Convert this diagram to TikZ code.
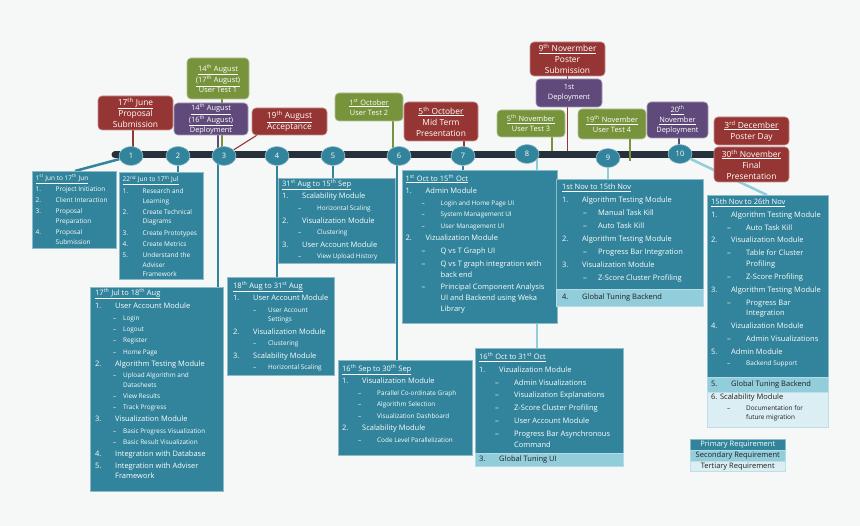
\documentclass[tikz,border=0pt]{standalone}
\usepackage{fontspec}
\setmainfont{Open Sans}
\usetikzlibrary{shapes.geometric,calc}
\definecolor{bg}{HTML}{F6F7F7}
\definecolor{prim}{HTML}{31849B}
\definecolor{sec}{HTML}{92CDDC}
\definecolor{ter}{HTML}{DAEEF3}
\definecolor{evr}{HTML}{963634}
\definecolor{evg}{HTML}{77933C}
\definecolor{evp}{HTML}{604A7B}
\definecolor{barc}{HTML}{27313B}
\definecolor{dk}{HTML}{1E1E1E}
\pgfdeclarelayer{bgl}\pgfdeclarelayer{back}\pgfdeclarelayer{mid}
\pgfsetlayers{bgl,back,mid,main}
\newlength\hdgap \newlength\dpos \newlength\spos
\newcommand\sps[1]{\textsuperscript{#1}}
\newcommand\hd[1]{\noindent\underline{#1}\par\vspace*{\hdgap}}
\newcommand\ti[2]{\hangindent=20pt\hangafter=1\noindent\makebox[20pt][l]{#1}#2\par}
\newcommand\subfont{\fontsize{6.4}{9.4}\selectfont}
\newcommand\subsm[1]{{\subfont\hangindent=\spos\hangafter=1\noindent\hspace*{\dpos}\makebox[\dimexpr\spos-\dpos\relax][l]{–}#1\par}}
\newcommand\subn[1]{\hangindent=\spos\hangafter=1\noindent\hspace*{\dpos}\makebox[\dimexpr\spos-\dpos\relax][l]{–}#1\par}
\newcommand\setS{\fontsize{6.5}{9.8}\selectfont\setlength\parskip{1.3pt}\setlength\hdgap{0.5pt}}
\newcommand\setM{\fontsize{7.5}{10.8}\selectfont\setlength\parskip{1.95pt}\setlength\hdgap{0pt}\setlength\dpos{16pt}\setlength\spos{35pt}}
\newcommand\bt[3]{\begin{minipage}[t]{#1}\rightskip=0pt plus 1fil\relax\parfillskip=0pt plus 1fil\relax#2#3\end{minipage}}
\newcommand\evbig{\fontsize{8.4}{11}\selectfont}
\newcommand\evsm{\fontsize{7.4}{10}\selectfont}
\tikzset{
  pbox/.style={draw=prim!55!white, fill=prim, line width=0.5pt, anchor=north west, inner sep=0pt, outer sep=0pt},
  sbox/.style={pbox, fill=sec, draw=sec!70!white},
  tbox/.style={pbox, fill=ter, draw=ter!85!prim},
  tx/.style={anchor=north west, inner sep=0pt, text=white},
  txd/.style={tx, text=dk},
  conn/.style={draw=prim, line width=2.5pt},
  lconn/.style={draw=sec, line width=2.5pt},
  circ/.style={ellipse, fill=prim, draw=prim!50!white, line width=0.6pt, minimum width=24pt, minimum height=19pt, inner sep=0pt, text=white, font=\fontsize{7.5}{9}\selectfont},
  ev/.style={rounded corners=4pt, inner sep=0pt, align=center, text=white, line width=0.6pt},
  evR/.style={ev, fill=evr, draw=evr!55!white, font=\evbig},
  evG/.style={ev, fill=evg, draw=evg!55!white, font=\evsm},
  evP/.style={ev, fill=evp, draw=evp!55!white, font=\evsm},
  rl/.style={line width=1.1pt},
  leg/.style={anchor=north west, minimum width=95pt, inner sep=0pt, font=\fontsize{7.5}{9}\selectfont, line width=0.5pt}
}
\begin{document}
\begin{tikzpicture}[x=1pt,y=-1pt]
\useasboundingbox (0,0) rectangle (860,526);
\begin{pgfonlayer}{bgl}\fill[bg] (0,0) rectangle (860,526);\end{pgfonlayer}
% timeline
\coordinate (tl) at (115,155);
\coordinate (tr) at (782,155);
\begin{pgfonlayer}{mid}\draw[barc, line width=7pt, line cap=round] (tl) -- (tr);\end{pgfonlayer}
% circles
\node[circ] (c1) at (131,156) {1};
\node[circ] (c2) at (178,156) {2};
\node[circ] (c3) at (224,156) {3};
\node[circ] (c4) at (277,156) {4};
\node[circ] (c5) at (333,156) {5};
\node[circ] (c6) at (399,156) {6};
\node[circ] (c7) at (463,156) {7};
\node[circ] (c8) at (527,154) {8};
\node[circ] (c9) at (608,158) {9};
\node[circ] (c10) at (680,154) {10};
% task boxes
\node[pbox, minimum width=84pt, minimum height=77pt] (bA) at (32,171) {};
\node[tx] (tA) at ($(bA.north west)+(3.5,3)$) {\bt{82pt}{\setS}{%
\hd{1\sps{st} Jun to 17\sps{th} Jun}
\ti{1.}{Project Initiation}
\ti{2.}{Client Interaction}
\ti{3.}{Proposal\\Preparation}
\ti{4.}{Proposal\\Submission}}};
\node[pbox, minimum width=84pt, minimum height=107pt] (bB) at (119,172) {};
\node[tx] (tB) at ($(bB.north west)+(3.5,3.5)$) {\bt{82pt}{\setS}{%
\hd{22\sps{nd} Jun to 17\sps{th} Jul}
\ti{1.}{Research and\\Learning}
\ti{2.}{Create Technical\\Diagrams}
\ti{3.}{Create Prototypes}
\ti{4.}{Create Metrics}
\ti{5.}{Understand the\\Adviser\\Framework}}};
\node[pbox, minimum width=133pt, minimum height=204pt] (bC) at (90,287) {};
\node[tx] (tC) at ($(bC.north west)+(5,1)$) {\bt{130pt}{\setM\fontsize{7.5}{10}\selectfont\setlength\parskip{2pt}\setlength\hdgap{1.5pt}\setlength\dpos{18pt}\setlength\spos{28pt}}{%
\hd{17\sps{th} Jul to 18\sps{th} Aug}
\ti{1.}{User Account Module}
\subsm{Login}
\subsm{Logout}
\subsm{Register}
\subsm{Home Page}
\ti{2.}{Algorithm Testing Module}
\subsm{Upload Algorithm and\\Datasheets}
\subsm{View Results}
\subsm{Track Progress}
\ti{3.}{Visualization Module}
\subsm{Basic Progress Visualization}
\subsm{Basic Result Visualization}
\ti{4.}{Integration with Database}
\ti{5.}{Integration with Adviser\\Framework}}};
\node[pbox, minimum width=107pt, minimum height=98pt] (bD) at (227,277) {};
\node[tx] (tD) at ($(bD.north west)+(6,4)$) {\bt{104pt}{\setM\setlength\dpos{20pt}\setlength\spos{35pt}}{%
\hd{18\sps{th} Aug to 31\sps{st} Aug}
\ti{1.}{User Account Module}
\subsm{User Account\\Settings}
\ti{2.}{Visualization Module}
\subsm{Clustering}
\ti{3.}{Scalability Module}
\subsm{Horizontal Scaling}}};
\node[pbox, minimum width=117pt, minimum height=85pt] (bE) at (278,178) {};
\node[tx] (tE) at ($(bE.north west)+(4,1)$) {\bt{115pt}{\setM}{%
\hd{31\sps{st} Aug to 15\sps{th} Sep}
\ti{1.}{Scalability Module}
\subsm{Horizontal Scaling}
\ti{2.}{Visualization Module}
\subsm{Clustering}
\ti{3.}{User Account Module}
\subsm{View Upload History}}};
\node[pbox, minimum width=134pt, minimum height=95pt] (bF) at (338,360) {};
\node[tx] (tF) at ($(bF.north west)+(4,4)$) {\bt{132pt}{\setM}{%
\hd{16\sps{th} Sep to 30\sps{th} Sep}
\ti{1.}{Visualization Module}
\subsm{Parallel Co-ordinate Graph}
\subsm{Algorithm Selection}
\subsm{Visualization Dashboard}
\ti{2.}{Scalability Module}
\subsm{Code Level Parallelization}}};
\node[pbox, minimum width=155pt, minimum height=153pt] (bG) at (402,170) {};
\node[tx] (tG) at ($(bG.north west)+(3.5,4)$) {\bt{153pt}{\setM}{%
\hd{1\sps{st} Oct to 15\sps{th} Oct}
\ti{1.}{Admin Module}
\subsm{Login and Home Page UI}
\subsm{System Management UI}
\subsm{User Management UI}
\ti{2.}{Vizualization Module}
\subn{Q vs T Graph UI}
\subn{Q vs T graph integration with\\back end}
\subn{Principal Component Analysis\\UI and Backend using Weka\\Library}}};
\node[pbox, minimum width=148pt, minimum height=105pt] (bH) at (475,348) {};
\node[sbox, minimum width=148pt, minimum height=13pt] (bH2) at (475,453) {};
\node[tx] (tH) at ($(bH.north west)+(4,4.5)$) {\bt{146pt}{\setM}{%
\hd{16\sps{th} Oct to 31\sps{st} Oct}
\ti{1.}{Vizualization Module}
\subn{Admin Visualizations}
\subn{Visualization Explanations}
\subn{Z-Score Cluster Profiling}
\subn{User Account Module}
\subn{Progress Bar Asynchronous\\Command}}};
\node[anchor=west, inner sep=0pt, text=dk, font=\fontsize{7.5}{9}\selectfont] (tH2) at ($(bH2.west)+(4,0)$) {\makebox[20pt][l]{3.}Global Tuning UI};
\node[pbox, minimum width=147pt, minimum height=110pt] (bI) at (556,179) {};
\node[sbox, minimum width=147pt, minimum height=17pt] (bI2) at (556,289) {};
\node[tx] (tI) at ($(bI.north west)+(6,4.5)$) {\bt{142pt}{\setM\setlength\parskip{2.2pt}\setlength\dpos{21pt}\setlength\spos{36pt}}{%
\hd{1st Nov to 15th Nov}
\ti{1.}{Algorithm Testing Module}
\subn{Manual Task Kill}
\subn{Auto Task Kill}
\ti{2.}{Algorithm Testing Module}
\subn{Progress Bar Integration}
\ti{3.}{Visualization Module}
\subn{Z-Score Cluster Profiling}}};
\node[anchor=west, inner sep=0pt, text=dk, font=\fontsize{7.5}{9}\selectfont] (tI2) at ($(bI2.west)+(6,0)$) {\makebox[20pt][l]{4.}Global Tuning Backend};
\node[pbox, minimum width=121pt, minimum height=182pt] (bJ) at (707,195) {};
\node[sbox, minimum width=121pt, minimum height=15pt] (bJ2) at (707,377) {};
\node[tbox, minimum width=121pt, minimum height=35pt] (bJ3) at (707,392) {};
\node[tx] (tJ) at ($(bJ.north west)+(4,3.5)$) {\bt{120pt}{\setM\setlength\parskip{2.05pt}}{%
\hd{15th Nov to 26th Nov}
\ti{1.}{Algorithm Testing Module}
\subn{Auto Task Kill}
\ti{2.}{Visualization Module}
\subn{Table for Cluster\\Profiling}
\subn{Z-Score Profiling}
\ti{3.}{Algorithm Testing Module}
\subn{Progress Bar\\Integration}
\ti{4.}{Vizualization Module}
\subn{Admin Visualizations}
\ti{5.}{Admin Module}
\subsm{Backend Support}}};
\node[anchor=west, inner sep=0pt, text=dk, font=\fontsize{7.5}{9}\selectfont] (tJ2) at ($(bJ2.west)+(4,0)$) {\makebox[20pt][l]{5.}Global Tuning Backend};
\node[txd] (tJ3) at ($(bJ3.north west)+(4,2)$) {\bt{118pt}{\setM\setlength\parskip{1pt}\color{dk}}{%
\noindent 6. Scalability Module\par
\subsm{Documentation for\\future migration}}};
% event boxes
\node[evR, minimum width=75pt, minimum height=34pt] (e1) at (135.5,113) {\underline{17\sps{th} June}\\Proposal\\Submission};
\node[evG, minimum width=62pt, minimum height=41pt] (e2) at (218,78.5) {\underline{14\sps{th} August}\\\underline{(17\sps{th} August)}\\User Test 1};
\node[evP, minimum width=74pt, minimum height=32pt] (e3) at (211,119) {\underline{14\sps{th} August}\\\underline{(16\sps{th} August)}\\Deployment};
\node[evR, minimum width=75pt, minimum height=27pt] (e4) at (289.5,121.5) {\underline{19\sps{th} August}\\Acceptance};
\node[evG, minimum width=68pt, minimum height=28pt] (e5) at (369,107) {\underline{1\sps{st} October}\\User Test 2};
\node[evR, minimum width=74pt, minimum height=39pt] (e6) at (441,121.5) {\underline{5\sps{th} October}\\Mid Term\\Presentation};
\node[evR, minimum width=75pt, minimum height=34pt] (e7) at (567.5,59) {\underline{9\sps{th} Novermber}\\Poster\\Submission};
\node[evP, minimum width=66pt, minimum height=28pt] (e8) at (569,93) {1st\\Deployment};
\node[evG, minimum width=68pt, minimum height=27pt] (e9) at (531,123.5) {\underline{5\sps{th} November}\\User Test 3};
\node[evG, minimum width=68pt, minimum height=30pt] (e10) at (612,124) {\underline{19\sps{th} November}\\User Test 4};
\node[evP, minimum width=61pt, minimum height=36pt] (e11) at (677.5,120) {\underline{20\sps{th}}\\\underline{November}\\Deployment};
\node[evR, minimum width=75pt, minimum height=28pt] (e12) at (751.5,131) {\underline{3\sps{rd} December}\\Poster Day};
\node[evR, minimum width=75pt, minimum height=35pt] (e13) at (751.5,164.5) {\underline{30\sps{th} November}\\Final\\Presentation};
% legend
\node[leg, fill=prim, draw=prim!55!white, text=white, minimum height=11pt] (lg1) at (690,439) {Primary Requirement};
\node[leg, fill=sec, draw=sec!70!white, text=dk, minimum height=11pt] (lg2) at (690,450) {Secondary Requirement};
\node[leg, fill=ter, draw=ter!85!prim, text=dk, minimum height=10pt] (lg3) at (690,461) {Tertiary Requirement};
% connectors
\begin{pgfonlayer}{back}
\draw[conn] (c1) -- ($(bA.north west)+(43,0)$);
\draw[conn] (c2) -- (c2 |- bB.north);
\coordinate (k3) at ($(bC.north east)+(-5,0)$);
\draw[conn] (k3 |- c3) -- (k3);
\draw[conn] (c4) -- (c4 |- bD.north);
\draw[conn] (c5) -- (c5 |- bE.north);
\coordinate (k6) at ($(c6)+(-2,0)$);
\draw[conn] (k6) -- (k6 |- bF.north);
\draw[conn] (c7) -- (c7 |- bG.north);
\coordinate (k8) at ($(c8)+(10,0)$);
\draw[lconn] (k8) -- (k8 |- bH.north);
\draw[lconn] (c9) -- (c9 |- bI.north);
\draw[lconn] (c10) -- ($(bJ.north west)+(60,0)$);
% event connectors
\coordinate (q1) at ($(e1.south)+(-2.5,0)$);
\draw[evr, rl] (q1) -- (q1 |- c1);
\coordinate (q2) at ($(e2.south)+(4,0)$);
\draw[evg, rl] (q2) -- (q2 |- c3);
\coordinate (q3) at ($(e3.south)+(7,0)$);
\draw[evp, rl] (q3) -- (q3 |- c3);
\draw[evr, rl] ($(e4.south west)+(5,0)$) -- (c3);
\coordinate (q5) at ($(e5.south)+(24,0)$);
\draw[evg, rl] (q5) -- (q5 |- c6);
\coordinate (q6) at ($(e6.south)+(23,0)$);
\draw[evr, rl] (q6) -- (q6 |- c7);
\draw[evr, rl] (e7.south) -- (e7.south |- tl);
\coordinate (q9) at ($(e9.south)+(21,0)$);
\draw[evg, rl] (q9) -- (q9 |- tl);
\coordinate (q11) at ($(e11.south)+(1.5,0)$);
\draw[evp, rl] (q11) -- (q11 |- c10);
\end{pgfonlayer}
\coordinate (q10) at ($(e10.south)+(18,0)$);
\draw[evg, rl] (q10) -- ($(q10 |- c9)+(0,3)$);
\end{tikzpicture}
\end{document}
